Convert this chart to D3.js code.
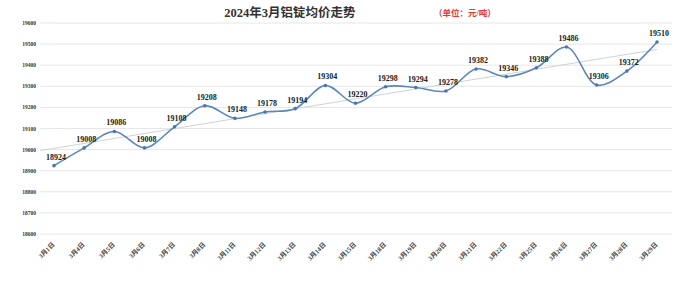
<!DOCTYPE html>
<html>
<head>
<meta charset="utf-8">
<script src="https://cdn.jsdelivr.net/npm/d3@7"></script>
<style>
  body { margin: 0; background: #fff; }
  svg { display: block; }
</style>
</head>
<body>
<div id="chart"></div>
<script>
// #1 - data
var dates = ['3月1日','3月4日','3月5日','3月6日','3月7日','3月8日','3月11日','3月12日','3月13日','3月14日',
  '3月15日','3月18日','3月19日','3月20日','3月21日','3月22日','3月25日','3月26日','3月27日','3月28日','3月29日'];
var prices = [18924, 19008, 19086, 19008, 19108, 19208, 19148, 19178, 19194, 19304,
  19220, 19298, 19294, 19278, 19382, 19346, 19388, 19486, 19306, 19372, 19510];
var yTicks = [18600, 18700, 18800, 18900, 19000, 19100, 19200, 19300, 19400, 19500, 19600];

var W = 676, H = 284;
var svg = d3.select('#chart').append('svg').attr('width', W).attr('height', H);

// #2 - scales
var xScale = d3.scaleLinear().domain([0, dates.length - 1]).range([54, 657]);
var yScale = d3.scaleLinear().domain([18600, 19600]).range([234, 23]);

// grid
svg.append('g').selectAll('line').data(yTicks).enter().append('line')
  .attr('x1', 40).attr('x2', 672)
  .attr('y1', d => yScale(d)).attr('y2', d => yScale(d))
  .attr('style', 'stroke: #e6e6e6; stroke-width: 1px');

// y labels
svg.append('g').selectAll('text').data(yTicks).enter().append('text')
  .attr('x', 36).attr('y', d => yScale(d) + 2)
  .attr('text-anchor', 'end')
  .style('font', 'bold 5.5px "Liberation Serif", serif')
  .style('fill', '#333')
  .text(d => d);

// x labels
svg.append('g').selectAll('text').data(dates).enter().append('text')
  .attr('transform', (d, i) => 'translate(' + (xScale(i) + 1) + ',245) rotate(-45)')
  .attr('text-anchor', 'end')
  .style('font', 'bold 6.5px "Liberation Serif", "Noto Sans CJK SC", serif')
  .style('fill', '#444')
  .text(d => d);

// #3 - linear trend line (least squares on the data)
var n = prices.length;
var mx = d3.mean(prices, (d, i) => i), my = d3.mean(prices);
var sxy = d3.sum(prices, (d, i) => (i - mx) * (d - my));
var sxx = d3.sum(prices, (d, i) => (i - mx) * (i - mx));
var slope = sxy / sxx, icpt = my - slope * mx;
svg.append('line')
  .attr('x1', xScale(-0.45)).attr('y1', yScale(icpt + slope * -0.45))
  .attr('x2', xScale(n - 1)).attr('y2', yScale(icpt + slope * (n - 1)))
  .attr('style', 'stroke: #cdd3d8; stroke-width: 1px');

// #4 - smooth line + dots
var line = d3.line()
  .x((d, i) => xScale(i))
  .y(d => yScale(d))
  .curve(d3.curveCatmullRom.alpha(0.5));
svg.append('path').datum(prices)
  .attr('d', line)
  .attr('fill', 'none')
  .attr('stroke', '#5b87bd')
  .attr('stroke-width', 1.6);

svg.append('g').selectAll('circle').data(prices).enter().append('circle')
  .attr('cx', (d, i) => xScale(i))
  .attr('cy', d => yScale(d))
  .attr('r', 1.8)
  .style('fill', '#4a76ad');

// value labels
svg.append('g').selectAll('text').data(prices).enter().append('text')
  .attr('x', (d, i) => xScale(i) + 2)
  .attr('y', d => yScale(d) - 6)
  .attr('text-anchor', 'middle')
  .style('font', 'bold 8px "Liberation Serif", serif')
  .style('fill', '#222')
  .text(d => d);

// title
svg.append('text')
  .attr('x', 290).attr('y', 17)
  .attr('text-anchor', 'middle')
  .style('font', 'bold 12.5px "Liberation Serif", "Noto Sans CJK SC", serif')
  .style('fill', '#333')
  .text('2024年3月铝锭均价走势');
svg.append('text')
  .attr('x', 434).attr('y', 16)
  .style('font', 'bold 8.5px "Liberation Serif", "Noto Sans CJK SC", serif')
  .style('fill', '#e03a3a')
  .text('（单位：元/吨）');
</script>
</body>
</html>
